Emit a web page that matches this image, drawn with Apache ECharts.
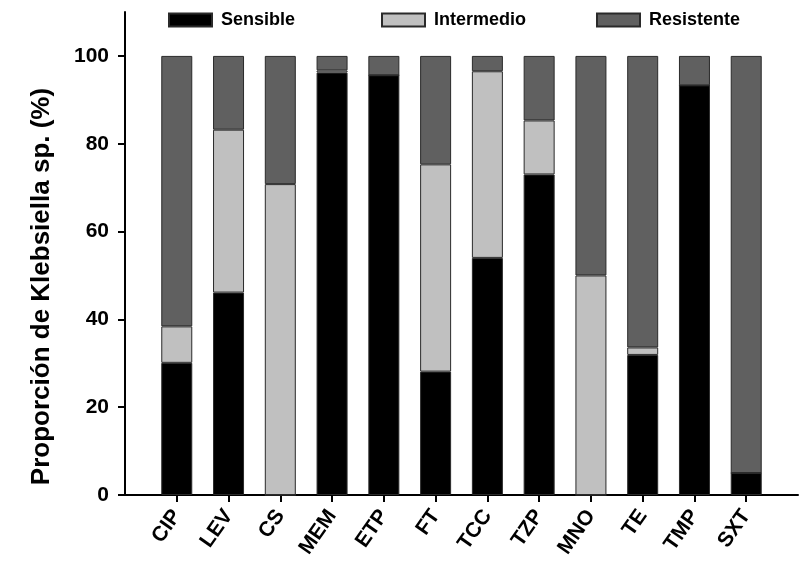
<!DOCTYPE html>
<html>
<head>
<meta charset="utf-8">
<script src="https://cdn.jsdelivr.net/npm/echarts@6/dist/echarts.min.js"></script>
<style>
  html, body { margin: 0; padding: 0; background: #fff; }
  #chart { width: 805px; height: 565px; }
</style>
</head>
<body>
<div id="chart"></div>
<script>
// Antibiotics tested
const categories = ['CIP', 'LEV', 'CS', 'MEM', 'ETP', 'FT', 'TCC', 'TZP', 'MNO', 'TE', 'TMP', 'SXT'];
// Share of isolates in each susceptibility class (%)
const sensible   = [30.1, 46.1, 0,    96.2, 95.6, 28.1, 54.0, 73.0, 0,  31.9, 93.3, 5.0];
const intermedio = [8.3,  37.1, 70.8, 0.5,  0,    47.2, 42.5, 12.3, 50, 1.7,  0,    0];
const resistente = [61.6, 16.8, 29.2, 3.3,  4.4,  24.7, 3.5,  14.7, 50, 66.4, 6.7,  95.0];
// Y axis tick values
const yTicks = [0, 20, 40, 60, 80, 100];

const FONT = '"Liberation Sans", Arial, sans-serif';

// one empty slot on each side so the bars sit one step in from the axis ends
const xCats = [''].concat(categories, ['']);
const pad = arr => [null].concat(arr, [null]);

const seriesDefs = [
  { name: 'Sensible',   data: sensible,   color: '#000000' },
  { name: 'Intermedio', data: intermedio, color: '#c0c0c0' },
  { name: 'Resistente', data: resistente, color: '#606060' }
];

const legendLeft = [168, 381, 596];

const chart = echarts.init(document.getElementById('chart'), null, { renderer: 'canvas' });

chart.setOption({
  animation: false,
  backgroundColor: '#ffffff',
  textStyle: { fontFamily: FONT },
  grid: { left: 125, right: 7, top: 12, bottom: 70, containLabel: false },
  legend: seriesDefs.map((s, i) => ({
    data: [s.name],
    left: legendLeft[i],
    top: 11,
    padding: 0,
    itemWidth: 43,
    itemHeight: 13,
    icon: 'rect',
    selectedMode: false,
    textStyle: { fontSize: 18, fontWeight: 'bold', color: '#000', fontFamily: FONT, padding: [0, 0, 0, 4] }
  })),
  xAxis: {
    type: 'category',
    data: xCats,
    boundaryGap: false,
    axisLine: { lineStyle: { color: '#000', width: 2 } },
    axisTick: {
      length: 7,
      lineStyle: { color: '#000', width: 2 },
      interval: (idx) => idx > 0 && idx < xCats.length - 1
    },
    axisLabel: {
      interval: 0,
      rotate: 55,
      margin: 17,
      fontSize: 21,
      fontWeight: 'bold',
      color: '#000',
      fontFamily: FONT
    },
    splitLine: { show: false }
  },
  yAxis: {
    type: 'value',
    min: 0,
    max: 110,
    interval: 20,
    name: 'Proporción de Klebsiella sp. (%)',
    nameLocation: 'middle',
    nameGap: 70,
    nameTextStyle: {
      fontSize: 26,
      fontWeight: 'bold',
      color: '#000',
      fontFamily: FONT,
      padding: [0, 66, 0, 0]
    },
    axisLine: { show: true, lineStyle: { color: '#000', width: 2 } },
    axisTick: { show: true, length: 7, lineStyle: { color: '#000', width: 2 }, customValues: yTicks },
    axisLabel: { fontSize: 21, fontWeight: 'bold', color: '#000', margin: 16, fontFamily: FONT, customValues: yTicks },
    splitLine: { show: false }
  },
  series: seriesDefs.map(s => ({
    name: s.name,
    type: 'bar',
    stack: 'total',
    barWidth: 31,
    data: pad(s.data),
    itemStyle: { color: s.color, borderColor: '#2a2a2a', borderWidth: 1 },
    emphasis: { disabled: true }
  }))
});
</script>
</body>
</html>
